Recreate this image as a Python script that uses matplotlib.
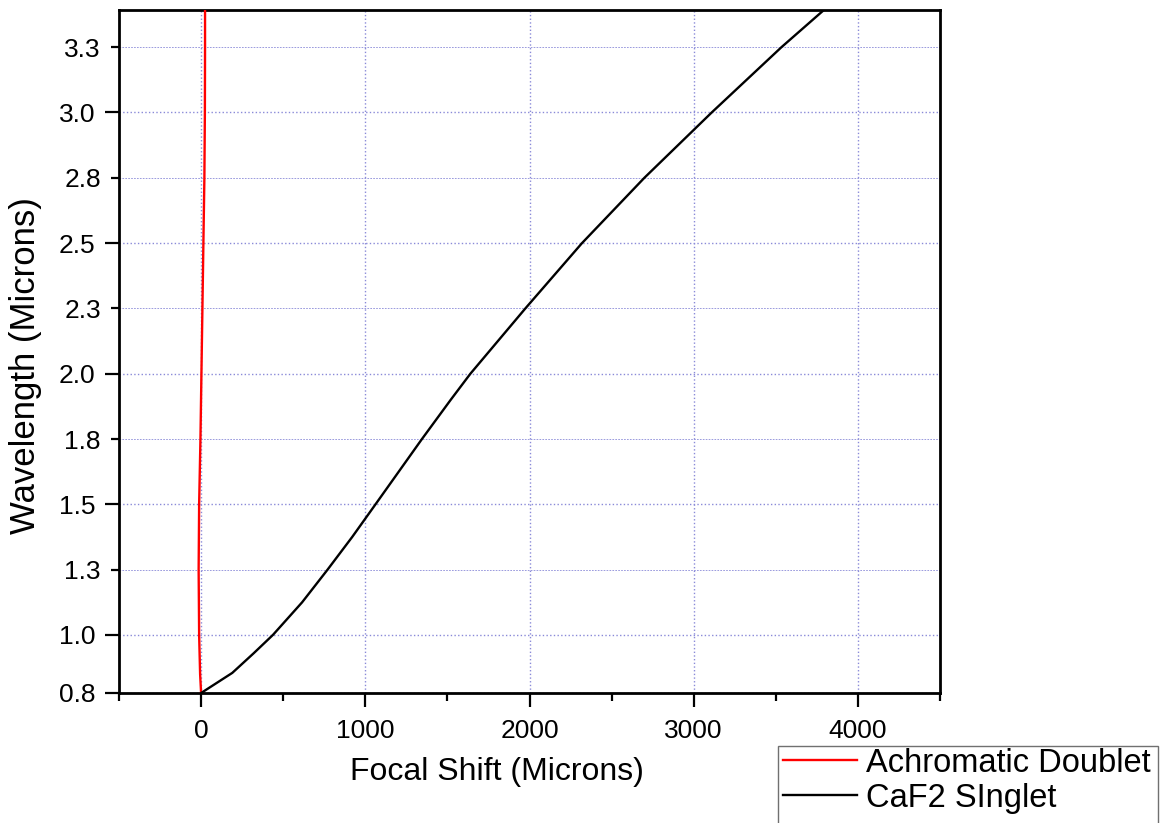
import matplotlib
matplotlib.use("Agg")
import matplotlib.pyplot as plt
from matplotlib.lines import Line2D
from matplotlib.patches import Rectangle

plt.rcParams["font.family"] = ["Liberation Sans", "DejaVu Sans"]

# ---- data ----
doublet_shift = [0, -6, -12, -15, -12, -4, 2, 8, 14, 20, 23, 24, 24]
doublet_wl = [0.778, 0.85, 1.0, 1.25, 1.5, 1.75, 2.0, 2.25, 2.5, 2.75, 3.0, 3.25, 3.392]

singlet_shift = [0, 190, 320, 437, 615, 770, 920, 1062, 1345, 1520, 1640,
                 1975, 2320, 2700, 3110, 3535, 3793]
singlet_wl = [0.778, 0.855, 0.93, 1.0, 1.125, 1.25, 1.375, 1.5, 1.75, 1.9, 2.0,
              2.25, 2.5, 2.75, 3.0, 3.25, 3.392]

series_names = ["Achromatic Doublet", "CaF2 SInglet"]
series_colors = ["#ff0000", "#000000"]

x_major = [0, 1000, 2000, 3000, 4000]
x_minor = [-500, 500, 1500, 2500, 3500, 4500]
y_major = [0.778, 1.0, 1.5, 2.0, 2.5, 3.0]
y_major_labels = ["0.8", "1.0", "1.5", "2.0", "2.5", "3.0"]
y_minor = [1.25, 1.75, 2.25, 2.75, 3.25]
y_minor_labels = ["1.3", "1.8", "2.3", "2.8", "3.3"]

W, H = 1160, 823
fig = plt.figure(figsize=(W / 100, H / 100), dpi=100)
ax = fig.add_axes([119 / W, 1 - 693 / H, 821 / W, 683 / H])

ax.plot(doublet_shift, doublet_wl, color=series_colors[0], lw=1.7, zorder=3)
ax.plot(singlet_shift, singlet_wl, color=series_colors[1], lw=1.7, zorder=3)

ax.set_xlim(-500, 4500)
ax.set_ylim(0.778, 3.392)

ax.set_xticks(x_major)
ax.set_xticks(x_minor, minor=True)
ax.set_yticks(y_major)
ax.set_yticklabels(y_major_labels)
ax.set_yticks(y_minor, minor=True)
ax.set_yticklabels(y_minor_labels, minor=True)

ax.tick_params(axis="both", which="major", direction="out", length=10, width=1.6,
               labelsize=19, top=False, right=False)
ax.tick_params(axis="both", which="minor", direction="out", length=6, width=1.6,
               labelsize=19, top=False, right=False)
ax.tick_params(axis="x", which="both", pad=9)
ax.tick_params(axis="y", which="both", pad=7)

for s in ax.spines.values():
    s.set_linewidth(2.0)

grid_col = "#8a8ad8"
ax.xaxis.grid(True, which="major", color=grid_col, ls=":", lw=1.0)
ax.yaxis.grid(True, which="major", color=grid_col, ls=":", lw=1.0)
ax.yaxis.grid(True, which="minor", color=grid_col, ls=(0, (2, 1.5)), lw=0.6)
ax.set_axisbelow(True)

ax.set_xlabel("Focal Shift (Microns)", fontsize=23)
ax.xaxis.set_label_coords(0.46, -0.094)
ax.set_ylabel("Wavelength (Microns)", fontsize=25)
ax.yaxis.set_label_coords(-0.094, 0.48)

# legend sits below the right corner, its box running off the figure bottom
handles = [Line2D([], [], color=c, lw=1.7) for c in series_colors]
fig.legend(handles, series_names, loc="upper left",
           bbox_to_anchor=(778 / W, 1 - 743 / H), frameon=False, fontsize=23.5,
           handlelength=2.27, handletextpad=0.28, labelspacing=0.12,
           borderpad=0.15, borderaxespad=0)
fig.patches.append(Rectangle((778 / W, -0.02), (1158 - 778) / W, 0.02 + 1 - 746 / H,
                             transform=fig.transFigure, fill=False,
                             edgecolor="#707070", lw=1.0))

fig.savefig("out.png", dpi=100)
